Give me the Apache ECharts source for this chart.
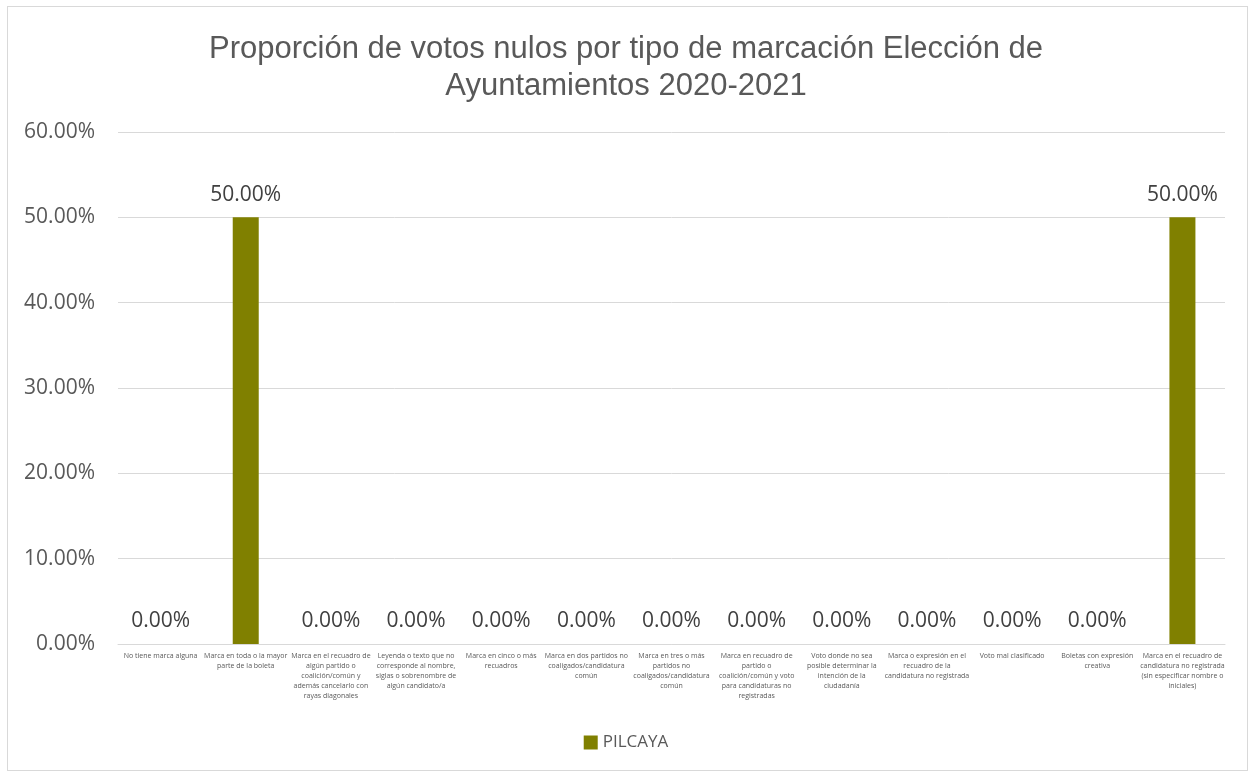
<!DOCTYPE html>
<html><head><meta charset="utf-8">
<script src="https://cdn.jsdelivr.net/npm/echarts@6/dist/echarts.min.js"></script>
<style>
html,body{margin:0;padding:0;background:#fff;}
#wrap{position:absolute;left:7px;top:6px;width:1241px;height:765px;border:1px solid #d9d9d9;box-sizing:border-box;}
#c{position:absolute;left:0;top:0;width:1252px;height:775px;}
</style></head>
<body><div id="wrap"></div><div id="c"></div>
<script>
const title = 'Proporción de votos nulos por tipo de marcación Elección de\nAyuntamientos 2020-2021';
const categories = [
  'No tiene marca alguna',
  'Marca en toda o la mayor\nparte de la boleta',
  'Marca en el recuadro de\nalgún partido o\ncoalición/común y\nademás cancelarlo con\nrayas diagonales',
  'Leyenda o texto que no\ncorresponde al nombre,\nsiglas o sobrenombre de\nalgún candidato/a',
  'Marca en cinco o más\nrecuadros',
  'Marca en dos partidos no\ncoaligados/candidatura\ncomún',
  'Marca en tres o más\npartidos no\ncoaligados/candidatura\ncomún',
  'Marca en recuadro de\npartido o\ncoalición/común y voto\npara candidaturas no\nregistradas',
  'Voto donde no sea\nposible determinar la\nintención de la\nciudadanía',
  'Marca o expresión en el\nrecuadro de la\ncandidatura no registrada',
  'Voto mal clasificado',
  'Boletas con expresión\ncreativa',
  'Marca en el recuadro de\ncandidatura no registrada\n(sin especificar nombre o\niniciales)'
];
const seriesName = 'PILCAYA';
const values = [0, 0.5, 0, 0, 0, 0, 0, 0, 0, 0, 0, 0, 0.5];

const chart = echarts.init(document.getElementById('c'));
chart.setOption({
  animation: false,
  title: {
    text: title, left: 'center', top: 26,
    textStyle: {fontFamily: 'Liberation Sans', fontSize: 31, fontWeight: 'normal', color: '#595959', lineHeight: 37}
  },
  grid: {left: 118, right: 27, top: 132, bottom: 131, containLabel: false},
  legend: {
    data: [seriesName], top: 729, left: 'center', icon: 'rect', itemWidth: 14, itemHeight: 14, itemGap: 10,
    textStyle: {fontFamily: 'Open Sans', fontSize: 17, color: '#595959'}
  },
  xAxis: {
    type: 'category', data: categories,
    axisLine: {lineStyle: {color: '#d9d9d9', width: 1}},
    axisTick: {show: false},
    axisLabel: {interval: 0, fontFamily: 'Open Sans', fontSize: 7, color: '#595959', lineHeight: 10, margin: 7}
  },
  yAxis: {
    type: 'value', min: 0, max: 0.6, interval: 0.1,
    axisLine: {show: false}, axisTick: {show: false},
    splitLine: {lineStyle: {color: '#d9d9d9'}},
    axisLabel: {formatter: v => (v*100).toFixed(2) + '%', fontFamily: 'Open Sans', fontSize: 21, color: '#595959', margin: 23}
  },
  series: [{
    name: seriesName, type: 'bar', data: values, barWidth: 26,
    itemStyle: {color: '#808000'},
    label: {show: true, position: 'top', distance: 12, formatter: p => (p.value*100).toFixed(2) + '%',
      fontFamily: 'Open Sans', fontSize: 21, color: '#404040'}
  }]
});
</script></body></html>
